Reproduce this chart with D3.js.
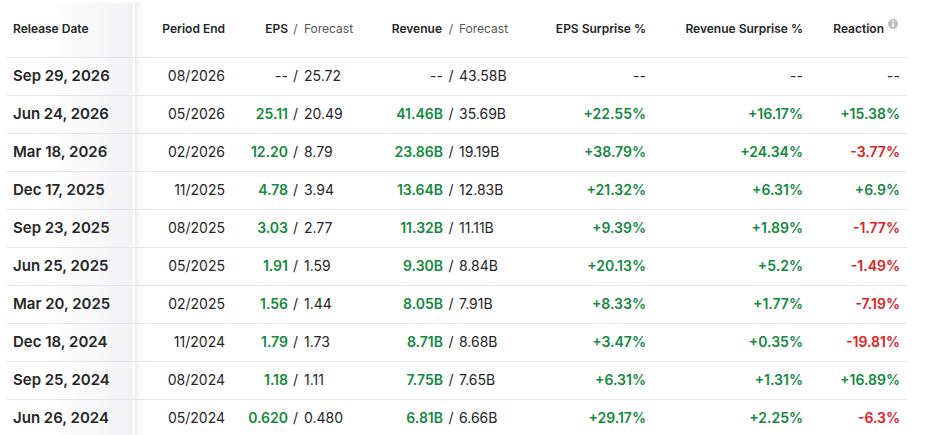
<!DOCTYPE html>
<meta charset="utf-8">
<script src="https://d3js.org/d3.v7.js"></script>
<style>
  body { margin: 0; background: #fff; }
  svg { font-family: Inter, "Noto Sans", sans-serif; }
</style>
<svg id="table" width="926" height="435"></svg>
<script>

// table data, newest first
const releaseDates = ["Sep 29, 2026", "Jun 24, 2026", "Mar 18, 2026", "Dec 17, 2025", "Sep 23, 2025",
                      "Jun 25, 2025", "Mar 20, 2025", "Dec 18, 2024", "Sep 25, 2024", "Jun 26, 2024"];
const periodEnds = ["08/2026", "05/2026", "02/2026", "11/2025", "08/2025",
                    "05/2025", "02/2025", "11/2024", "08/2024", "05/2024"];
const epsActual = ["--", "25.11", "12.20", "4.78", "3.03", "1.91", "1.56", "1.79", "1.18", "0.620"];
const epsForecast = ["25.72", "20.49", "8.79", "3.94", "2.77", "1.59", "1.44", "1.73", "1.11", "0.480"];
const revActual = ["--", "41.46B", "23.86B", "13.64B", "11.32B", "9.30B", "8.05B", "8.71B", "7.75B", "6.81B"];
const revForecast = ["43.58B", "35.69B", "19.19B", "12.83B", "11.11B", "8.84B", "7.91B", "8.68B", "7.65B", "6.66B"];
const epsSurprise = ["--", "+22.55%", "+38.79%", "+21.32%", "+9.39%", "+20.13%", "+8.33%", "+3.47%", "+6.31%", "+29.17%"];
const revSurprise = ["--", "+16.17%", "+24.34%", "+6.31%", "+1.89%", "+5.2%", "+1.77%", "+0.35%", "+1.31%", "+2.25%"];
const reaction = ["--", "+15.38%", "-3.77%", "+6.9%", "-1.77%", "-1.49%", "-7.19%", "-19.81%", "+16.89%", "-6.3%"];

const svg = d3.select("#table"),
    width = +svg.attr("width"),
    height = +svg.attr("height");

const green = "#138a3e", red = "#e0201b", dark = "#232526", grey = "#555";

const rows = releaseDates.map((d, i) => ({
  date: d, period: periodEnds[i],
  epsA: epsActual[i], epsF: epsForecast[i],
  revA: revActual[i], revF: revForecast[i],
  epsS: epsSurprise[i], revS: revSurprise[i], react: reaction[i]
}));

// row positions
const y = d3.scaleBand()
    .domain(d3.range(rows.length))
    .range([57, 57 + 38 * rows.length]);

const tone = v => v === "--" ? dark : (parseFloat(v) < 0 ? red : green);

// sticky first column shade
const defs = svg.append("defs");
const g1 = defs.append("linearGradient").attr("id", "colShade");
g1.append("stop").attr("offset", "0%").attr("stop-color", "#fff");
g1.append("stop").attr("offset", "100%").attr("stop-color", "#f2f2f4");
const g2 = defs.append("linearGradient").attr("id", "colShadow");
g2.append("stop").attr("offset", "0%").attr("stop-color", "#ececef");
g2.append("stop").attr("offset", "100%").attr("stop-color", "#fff").attr("stop-opacity", 0);

svg.append("rect").attr("x", 50).attr("y", 3).attr("width", 83).attr("height", height)
    .attr("fill", "url(#colShade)");
svg.append("rect").attr("x", 135).attr("y", 3).attr("width", 12).attr("height", height)
    .attr("fill", "url(#colShadow)");

// row separators
svg.append("g")
  .selectAll("line")
  .data(d3.range(rows.length))
  .join("line")
    .attr("x1", 7).attr("x2", 907)
    .attr("y1", i => y(i) + 0.5).attr("y2", i => y(i) + 0.5)
    .attr("stroke", "#e3e6ee");

// header
const head = svg.append("g").attr("font-size", 12).attr("fill", dark).attr("font-weight", 600);
const headY = 33;
head.append("text").attr("x", 13).attr("y", headY).text("Release Date");
head.append("text").attr("x", 225).attr("y", headY).attr("text-anchor", "end").text("Period End");
head.append("text").attr("x", 288).attr("y", headY).attr("text-anchor", "end").text("EPS");
head.append("text").attr("x", 295.5).attr("y", headY).attr("text-anchor", "middle")
    .attr("font-weight", 400).attr("fill", grey).text("/");
head.append("text").attr("x", 304).attr("y", headY).attr("font-weight", 400).attr("fill", grey).text("Forecast");
head.append("text").attr("x", 442).attr("y", headY).attr("text-anchor", "end").text("Revenue");
head.append("text").attr("x", 451).attr("y", headY).attr("text-anchor", "middle")
    .attr("font-weight", 400).attr("fill", grey).text("/");
head.append("text").attr("x", 459).attr("y", headY).attr("font-weight", 400).attr("fill", grey).text("Forecast");
head.append("text").attr("x", 646).attr("y", headY).attr("text-anchor", "end").text("EPS Surprise %");
head.append("text").attr("x", 803).attr("y", headY).attr("text-anchor", "end").text("Revenue Surprise %");
head.append("text").attr("x", 884).attr("y", headY).attr("text-anchor", "end").text("Reaction");

// info icon
const info = svg.append("g").attr("transform", "translate(893,24)");
info.append("circle").attr("r", 5).attr("fill", "#bdbdbd");
info.append("rect").attr("x", -0.8).attr("y", -1).attr("width", 1.6).attr("height", 4).attr("fill", "#fff");
info.append("circle").attr("cy", -2.8).attr("r", 0.9).attr("fill", "#fff");

// body rows
const row = svg.append("g")
  .selectAll("g")
  .data(rows)
  .join("g")
    .attr("transform", (d, i) => `translate(0,${y(i) + y.bandwidth() / 2 + 5})`)
    .attr("font-size", 14)
    .attr("fill", dark);

row.append("text").attr("x", 13).attr("font-size", 15).attr("font-weight", 600).text(d => d.date);
row.append("text").attr("x", 225).attr("text-anchor", "end").text(d => d.period);

row.append("text").attr("x", 288).attr("text-anchor", "end")
    .attr("font-weight", d => d.epsA === "--" ? 400 : 600)
    .attr("fill", d => d.epsA === "--" ? dark : green).text(d => d.epsA);
row.append("text").attr("x", 295.5).attr("text-anchor", "middle").text("/");
row.append("text").attr("x", 304).text(d => d.epsF);

row.append("text").attr("x", 443).attr("text-anchor", "end")
    .attr("font-weight", d => d.revA === "--" ? 400 : 600)
    .attr("fill", d => d.revA === "--" ? dark : green).text(d => d.revA);
row.append("text").attr("x", 451).attr("text-anchor", "middle").text("/");
row.append("text").attr("x", 459).text(d => d.revF);

row.append("text").attr("x", 646).attr("text-anchor", "end")
    .attr("font-weight", d => d.epsS === "--" ? 400 : 600)
    .attr("fill", d => tone(d.epsS)).text(d => d.epsS);
row.append("text").attr("x", 803).attr("text-anchor", "end")
    .attr("font-weight", d => d.revS === "--" ? 400 : 600)
    .attr("fill", d => tone(d.revS)).text(d => d.revS);
row.append("text").attr("x", 900).attr("text-anchor", "end")
    .attr("font-weight", d => d.react === "--" ? 400 : 600)
    .attr("fill", d => tone(d.react)).text(d => d.react);

</script>
